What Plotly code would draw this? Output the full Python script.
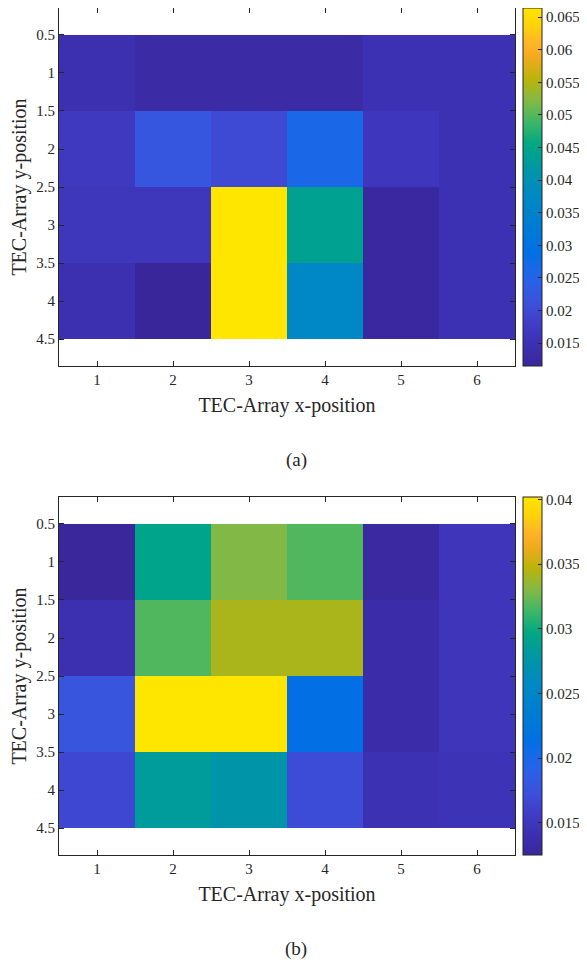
import plotly.graph_objects as go

# ---------------- data ----------------
x_pos = [1, 2, 3, 4, 5, 6]
y_pos = [1, 2, 3, 4]

# panel (a): rows = y-position 1..4, columns = x-position 1..6
z_a = [
    [0.0145, 0.0130, 0.0130, 0.0130, 0.0150, 0.0150],
    [0.0168, 0.0222, 0.0200, 0.0262, 0.0165, 0.0150],
    [0.0162, 0.0162, 0.0664, 0.0440, 0.0122, 0.0150],
    [0.0145, 0.0115, 0.0664, 0.0370, 0.0122, 0.0150],
]
# panel (b)
z_b = [
    [0.0126, 0.0292, 0.0330, 0.0318, 0.0130, 0.0148],
    [0.0140, 0.0318, 0.0342, 0.0342, 0.0135, 0.0148],
    [0.0178, 0.0402, 0.0402, 0.0212, 0.0135, 0.0148],
    [0.0166, 0.0283, 0.0275, 0.0170, 0.0142, 0.0145],
]
cbar_a_ticks = [0.015, 0.02, 0.025, 0.03, 0.035, 0.04, 0.045, 0.05, 0.055, 0.06, 0.065]
cbar_b_ticks = [0.015, 0.02, 0.025, 0.03, 0.035, 0.04]
y_ticks = [0.5, 1, 1.5, 2, 2.5, 3, 3.5, 4, 4.5]
y_ticklabels = ["0.5", "1", "1.5", "2", "2.5", "3", "3.5", "4", "4.5"]

x_title = "TEC-Array x-position"
y_title = "TEC-Array y-position"
captions = ["(a)", "(b)"]

# parula-like colour scale (as rendered in the reference)
parula = [
    [0.00, "rgb(58,38,155)"],
    [0.06, "rgb(60,48,178)"],
    [0.12, "rgb(64,62,200)"],
    [0.18, "rgb(60,82,220)"],
    [0.25, "rgb(35,100,232)"],
    [0.32, "rgb(0,112,228)"],
    [0.40, "rgb(0,125,210)"],
    [0.48, "rgb(0,137,195)"],
    [0.55, "rgb(0,150,165)"],
    [0.62, "rgb(0,168,130)"],
    [0.68, "rgb(60,182,105)"],
    [0.74, "rgb(130,185,70)"],
    [0.80, "rgb(185,180,10)"],
    [0.86, "rgb(240,170,30)"],
    [0.90, "rgb(255,180,40)"],
    [0.95, "rgb(255,210,10)"],
    [1.00, "rgb(255,230,0)"],
]

# page body has an 8px default margin -> shrink figure and offset coordinates
OFF = 8
W, H = 587 - OFF, 962 - OFF
FONT = "Liberation Serif, Times New Roman, serif"
TXT = "#262626"

# pixel geometry (in reference page pixels)
px_left, px_right = 59, 515
panels = [(8, 366), (497, 855)]
cb_x = 523
cb_thick = 19


def pxx(v):
    return (v - OFF) / W


def py(v):
    return 1 - (v - OFF) / H


fig = go.Figure()

zs = [z_a, z_b]
cranges = [(0.0115, 0.0664), (0.0125, 0.0402)]
cticks = [cbar_a_ticks, cbar_b_ticks]

for i, (top, bot) in enumerate(panels):
    xa = "x" if i == 0 else "x2"
    ya = "y" if i == 0 else "y2"
    fig.add_trace(go.Heatmap(
        x=x_pos, y=y_pos, z=zs[i],
        colorscale=parula, zmin=cranges[i][0], zmax=cranges[i][1],
        xaxis=xa, yaxis=ya, showscale=True,
        colorbar=dict(
            x=pxx(cb_x), xanchor="left", xpad=0, ypad=0,
            y=py((top + bot) / 2), yanchor="middle",
            len=(bot - top) / H, lenmode="fraction",
            thickness=cb_thick, thicknessmode="pixels",
            outlinecolor=TXT, outlinewidth=1,
            tickvals=cticks[i], ticktext=[f"{t:g}" for t in cticks[i]],
            ticks="inside", ticklen=4, tickcolor=TXT,
            tickfont=dict(family=FONT, size=15, color=TXT),
        ),
    ))

    axis_common = dict(
        showgrid=False, zeroline=False, showline=True, linecolor=TXT,
        linewidth=1, mirror="ticks", ticks="inside", ticklen=5, automargin=False,
        tickcolor=TXT, tickfont=dict(family=FONT, size=15, color=TXT),
    )
    xkey = "xaxis" if i == 0 else "xaxis2"
    ykey = "yaxis" if i == 0 else "yaxis2"
    fig.update_layout(**{
        xkey: dict(
            domain=[pxx(px_left), pxx(px_right)], range=[0.5, 6.5],
            tickvals=x_pos, anchor=ya,
            title=dict(text=x_title, font=dict(family=FONT, size=20, color=TXT),
                       standoff=10),
            **axis_common,
        ),
        ykey: dict(
            domain=[py(bot), py(top)], range=[4.855, 0.145],
            tickvals=y_ticks, ticktext=y_ticklabels, anchor=xa,
            title=dict(text=y_title, font=dict(family=FONT, size=20, color=TXT),
                       standoff=6),
            **axis_common,
        ),
    })

    fig.add_annotation(
        text=captions[i], xref="paper", yref="paper",
        x=pxx(296), y=py(bot + 94), xanchor="center", yanchor="middle",
        showarrow=False, font=dict(family=FONT, size=19, color=TXT),
    )

fig.update_layout(
    width=W, height=H, margin=dict(l=0, r=0, t=0, b=0, autoexpand=False),
    paper_bgcolor="white", plot_bgcolor="white", showlegend=False,
)

fig.write_html("out.html")
